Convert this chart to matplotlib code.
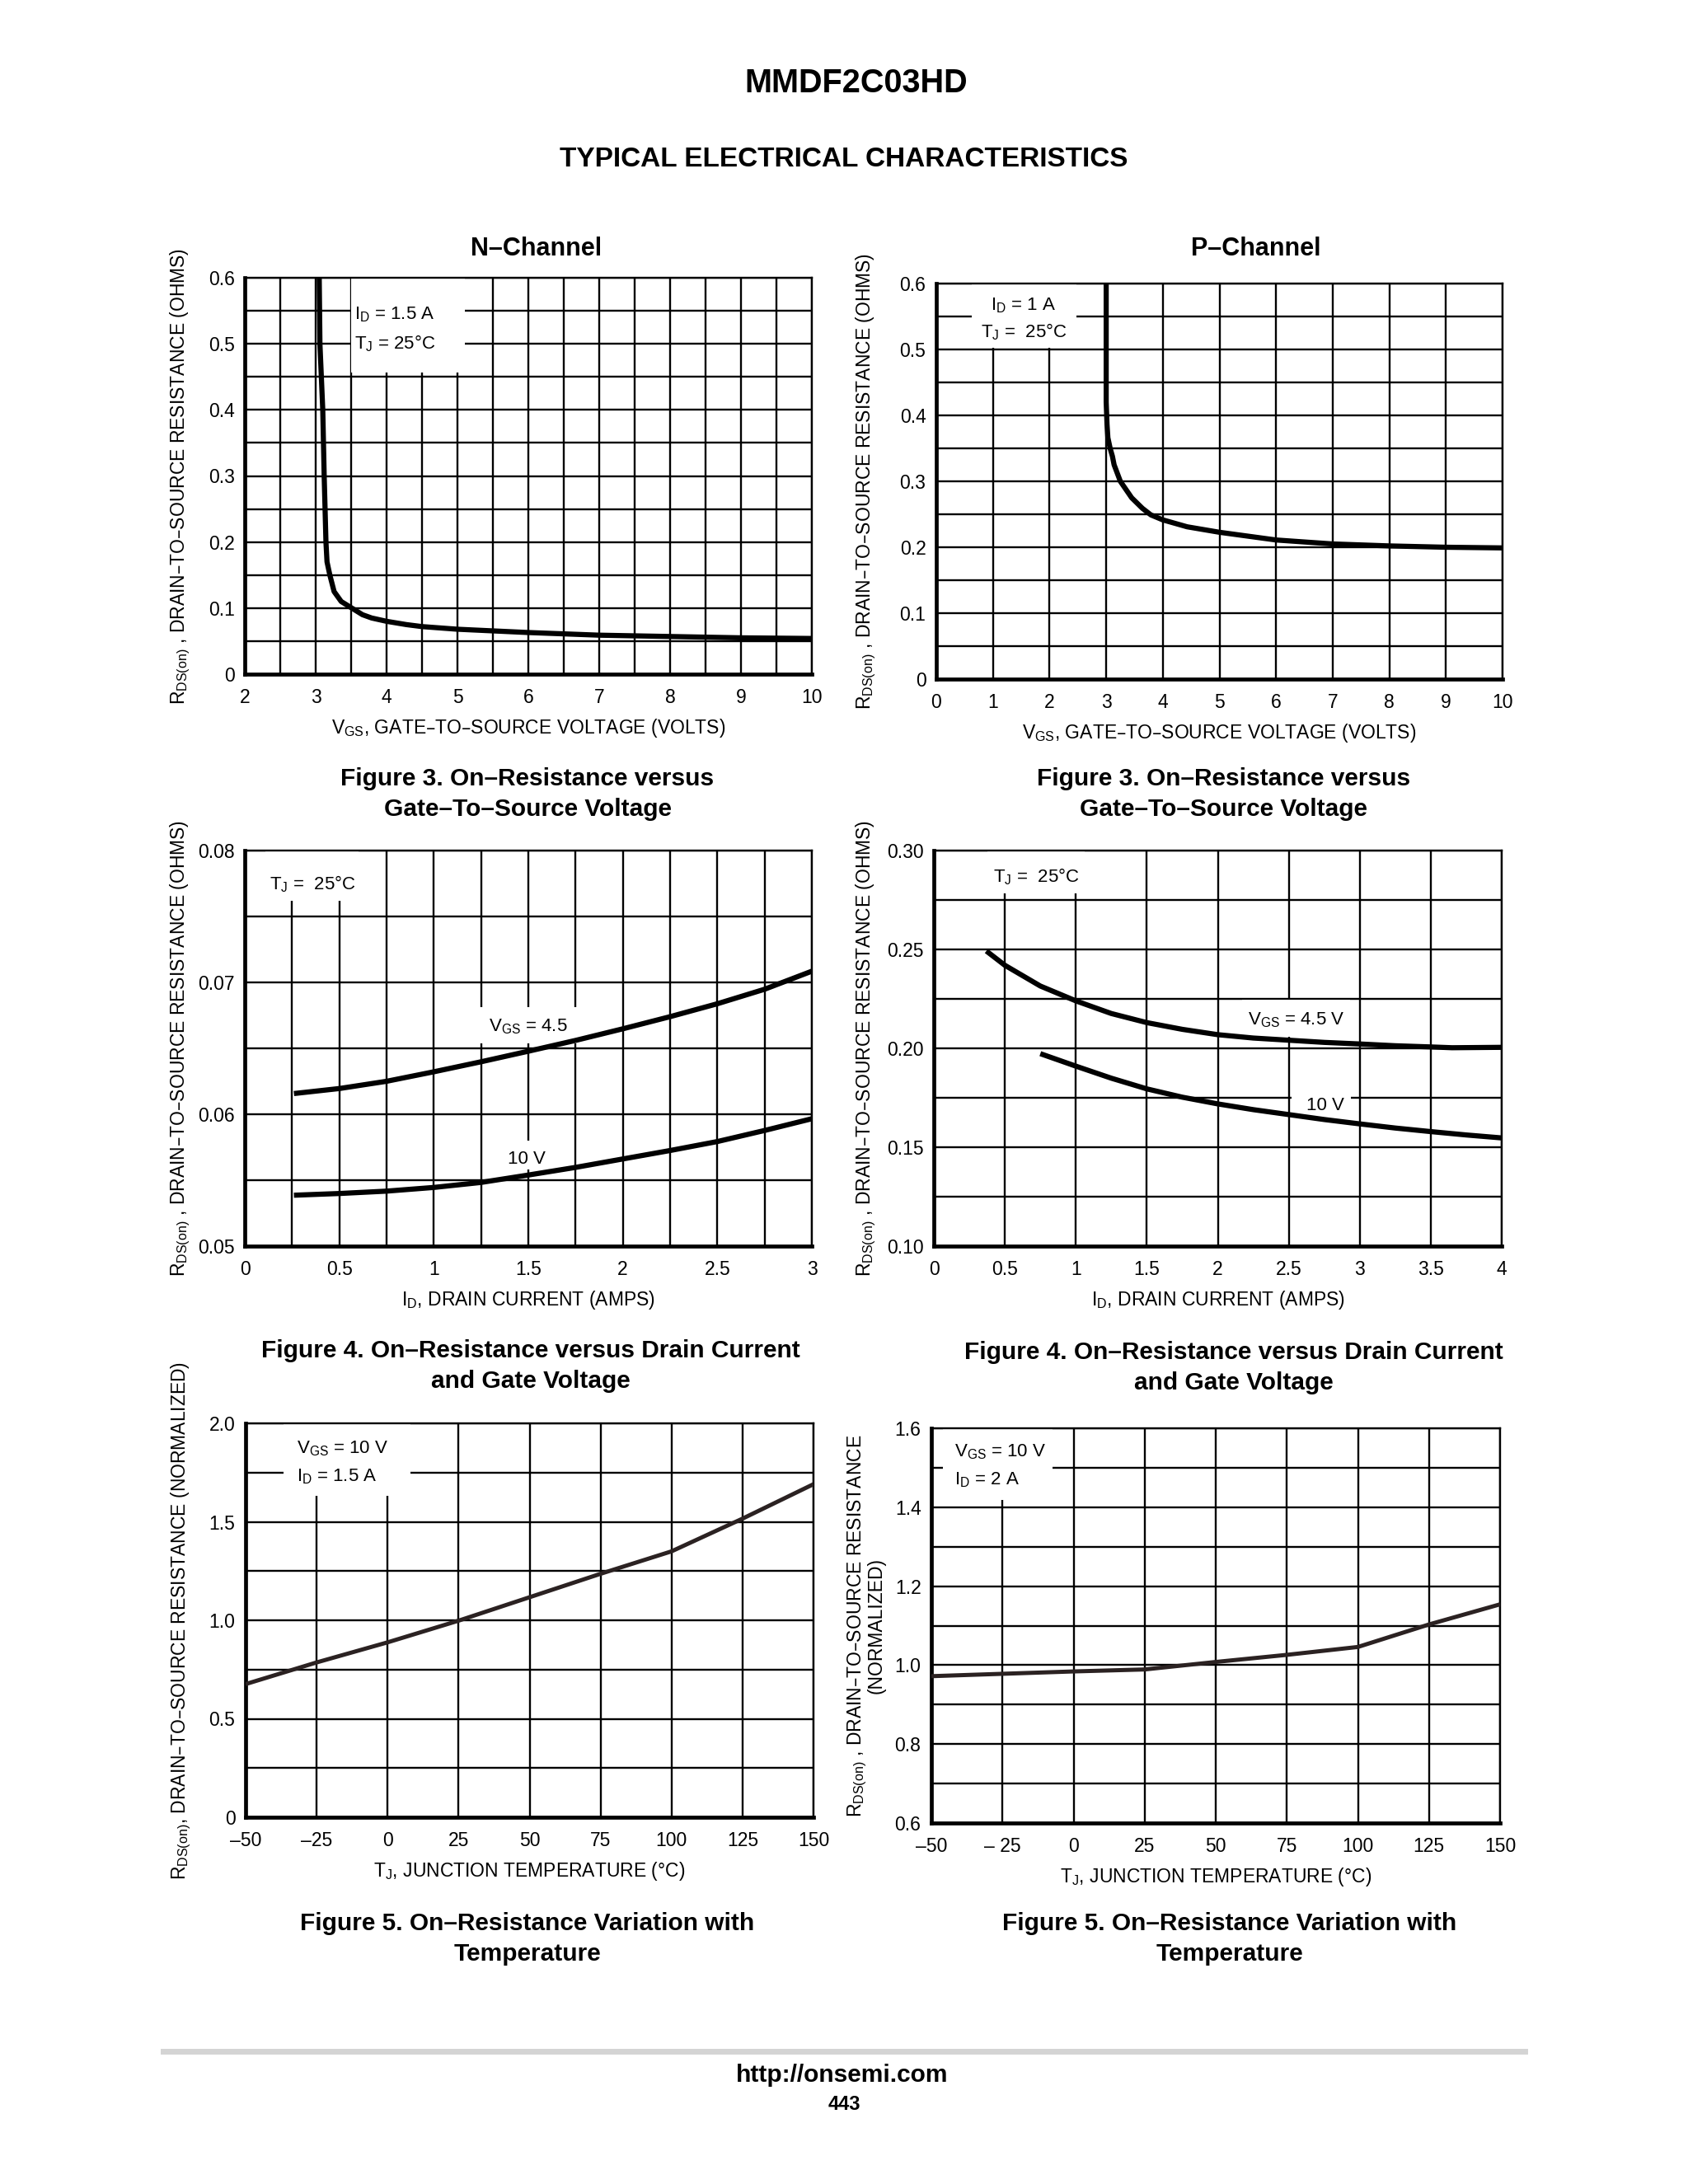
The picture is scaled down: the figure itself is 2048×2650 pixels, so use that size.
import matplotlib
matplotlib.use('Agg')
import matplotlib.pyplot as plt
from matplotlib.patches import Rectangle
from matplotlib.ticker import MultipleLocator

plt.rcParams['font.family'] = ['Liberation Sans Narrow', 'Liberation Sans', 'DejaVu Sans']
plt.rcParams['mathtext.default'] = 'regular'

# ---------------- data ----------------
# Figure 3 (N-channel): RDS(on) vs VGS, ID = 1.5 A
n_vgs = [3.05, 3.06, 3.10, 3.12, 3.145, 3.16, 3.20, 3.26, 3.36, 3.51, 3.66, 3.79, 4.0, 4.28, 4.5,
         5, 6, 7, 8, 9, 10]
n_rds = [0.60, 0.50, 0.40, 0.30, 0.20, 0.17, 0.15, 0.125, 0.11, 0.10, 0.09, 0.085, 0.08, 0.075, 0.072,
         0.068, 0.063, 0.059, 0.057, 0.055, 0.054]
# Figure 3 (P-channel): RDS(on) vs VGS, ID = 1 A
p_vgs = [3.0, 3.0, 3.015, 3.03, 3.07, 3.11, 3.14, 3.25, 3.45, 3.64, 3.79, 4.0, 4.43, 5, 6, 7, 8, 9, 10]
p_rds = [0.60, 0.42, 0.386, 0.366, 0.350, 0.338, 0.325, 0.300, 0.275, 0.259, 0.249, 0.2415, 0.231,
         0.2227, 0.211, 0.205, 0.202, 0.200, 0.199]
# Figure 4 (N-channel): RDS(on) vs ID
n_id = [0.26, 0.5, 0.75, 1.0, 1.25, 1.5, 1.75, 2.0, 2.25, 2.5, 2.75, 3.0]
n_rds_45 = [0.06157, 0.06195, 0.0625, 0.06322, 0.06398, 0.06478, 0.06560, 0.06648, 0.06740, 0.06838,
            0.06948, 0.07085]
n_rds_10 = [0.05386, 0.05399, 0.05417, 0.05445, 0.05483, 0.05539, 0.05597, 0.05661, 0.05725, 0.05793,
            0.05877, 0.05966]
# Figure 4 (P-channel): RDS(on) vs ID
p_id_45 = [0.37, 0.5, 0.75, 1.0, 1.25, 1.5, 1.75, 2.0, 2.25, 2.5, 2.75, 3.0, 3.25, 3.5, 3.65, 4.0]
p_rds_45 = [0.2492, 0.2420, 0.2315, 0.2240, 0.2176, 0.2130, 0.2096, 0.2069, 0.2052, 0.2041, 0.2030,
            0.2022, 0.2013, 0.2007, 0.2003, 0.2005]
p_id_10 = [0.75, 1.0, 1.25, 1.5, 1.75, 2.0, 2.25, 2.5, 2.75, 3.0, 3.25, 3.5, 3.75, 4.0]
p_rds_10 = [0.1973, 0.1910, 0.1849, 0.1795, 0.1753, 0.1719, 0.1690, 0.1665, 0.1640, 0.1618, 0.1597,
            0.1579, 0.1562, 0.1547]
# Figure 5: normalized RDS(on) vs TJ
n_tj = [-50, -25, 0, 25, 50, 75, 100, 125, 150]
n_rnorm = [0.676, 0.786, 0.888, 0.998, 1.117, 1.236, 1.350, 1.516, 1.691]
p_tj = [-50, -25, 0, 25, 50, 75, 100, 125, 150]
p_rnorm = [0.972, 0.978, 0.984, 0.989, 1.008, 1.026, 1.046, 1.103, 1.154]

# tick labels
vgs_n_ticks = [2, 3, 4, 5, 6, 7, 8, 9, 10]
vgs_p_ticks = [0, 1, 2, 3, 4, 5, 6, 7, 8, 9, 10]
rds_ticks = [0, 0.1, 0.2, 0.3, 0.4, 0.5, 0.6]
rds_ticklabels = ['0', '0.1', '0.2', '0.3', '0.4', '0.5', '0.6']
id_n_ticks = [0, 0.5, 1, 1.5, 2, 2.5, 3]
id_n_ticklabels = ['0', '0.5', '1', '1.5', '2', '2.5', '3']
rds_n4_ticks = [0.05, 0.06, 0.07, 0.08]
rds_n4_ticklabels = ['0.05', '0.06', '0.07', '0.08']
id_p_ticks = [0, 0.5, 1, 1.5, 2, 2.5, 3, 3.5, 4]
id_p_ticklabels = ['0', '0.5', '1', '1.5', '2', '2.5', '3', '3.5', '4']
rds_p4_ticks = [0.10, 0.15, 0.20, 0.25, 0.30]
rds_p4_ticklabels = ['0.10', '0.15', '0.20', '0.25', '0.30']
tj_ticks = [-50, -25, 0, 25, 50, 75, 100, 125, 150]
tj_n_ticklabels = ['–50', '–25', '0', '25', '50', '75', '100', '125', '150']
tj_p_ticklabels = ['–50', '– 25', '0', '25', '50', '75', '100', '125', '150']
rn_n_ticks = [0, 0.5, 1.0, 1.5, 2.0]
rn_n_ticklabels = ['0', '0.5', '1.0', '1.5', '2.0']
rn_p_ticks = [0.6, 0.8, 1.0, 1.2, 1.4, 1.6]
rn_p_ticklabels = ['0.6', '0.8', '1.0', '1.2', '1.4', '1.6']

# ---------------- figure ----------------
W, H = 2048, 2650
fig = plt.figure(figsize=(W / 100, H / 100), dpi=100)
fig.patch.set_facecolor('white')

BOLD = ['Liberation Sans', 'DejaVu Sans']
TICK_FS = 16.5
LAB_FS = 16.5
ANN_FS = 16


def px_rect(x0, y0, x1, y1):
    return [x0 / W, 1 - y1 / H, (x1 - x0) / W, (y1 - y0) / H]


def ftext(x, y, s, **kw):
    fig.text(x / W, 1 - y / H, s, ha='center', va='center', **kw)


def panel(r, xlim, ylim, xgrid, ygrid, xt, xtl, yt, ytl, xlabel, ylabel, ylab_x, gcol='black'):
    ax = fig.add_axes(px_rect(*r))
    ax.set_xlim(*xlim)
    ax.set_ylim(*ylim)
    ax.set_xticks(xt)
    ax.set_xticklabels(xtl)
    ax.set_yticks(yt)
    ax.set_yticklabels(ytl)
    ax.xaxis.set_minor_locator(MultipleLocator(xgrid))
    ax.yaxis.set_minor_locator(MultipleLocator(ygrid))
    ax.set_axisbelow(True)
    ax.grid(which='both', color=gcol, lw=1.7)
    ax.tick_params(which='both', length=0, labelsize=TICK_FS)
    ax.tick_params(axis='x', pad=12)
    ax.tick_params(axis='y', pad=9)
    for s in ['top', 'right']:
        ax.spines[s].set_linewidth(1.7)
        ax.spines[s].set_color(gcol)
    for s in ['left', 'bottom']:
        ax.spines[s].set_linewidth(3.4)
        ax.spines[s].set_color(gcol)
    ax.set_xlabel(xlabel, fontsize=LAB_FS, labelpad=9)
    ax.set_ylabel(ylabel, fontsize=LAB_FS, linespacing=0.85)
    ax.yaxis.set_label_coords(ylab_x, 0.5)
    return ax


def whitebox(ax, x0, y0, x1, y1):
    ax.add_patch(Rectangle((x0, y0), x1 - x0, y1 - y0, facecolor='white', edgecolor='none',
                           zorder=1.5))


YL_OHMS = 'R$_{DS(on)}$ , DRAIN–TO–SOURCE RESISTANCE (OHMS)'
CURVE = dict(color='black', lw=4.5, solid_joinstyle='round', solid_capstyle='butt', zorder=4)
LC = '#2b2222'
CURVE_T = dict(color=LC, lw=3.6, solid_joinstyle='round', solid_capstyle='butt', zorder=4)

# ---- Figure 3 N-channel
ax1 = panel((297, 337, 985, 818), (2, 10), (0, 0.6), 0.5, 0.05,
            vgs_n_ticks, [str(v) for v in vgs_n_ticks], rds_ticks, rds_ticklabels,
            'V$_{GS}$, GATE–TO–SOURCE VOLTAGE (VOLTS)', YL_OHMS, -0.093)
whitebox(ax1, 3.5, 0.457, 5.1, 0.6)
ax1.text(3.55, 0.544, 'I$_D$ = 1.5 A', fontsize=ANN_FS, ha='left', va='center', zorder=3)
ax1.text(3.55, 0.501, 'T$_J$ = 25°C', fontsize=ANN_FS, ha='left', va='center', zorder=3)
ax1.plot(n_vgs, n_rds, **CURVE)

# ---- Figure 3 P-channel
ax2 = panel((1136, 344, 1823, 824), (0, 10), (0, 0.6), 1, 0.05,
            vgs_p_ticks, [str(v) for v in vgs_p_ticks], rds_ticks, rds_ticklabels,
            'V$_{GS}$, GATE–TO–SOURCE VOLTAGE (VOLTS)', YL_OHMS, -0.103)
whitebox(ax2, 0.62, 0.503, 2.47, 0.6)
ax2.text(1.54, 0.567, 'I$_D$ = 1 A', fontsize=ANN_FS, ha='center', va='center', zorder=3)
ax2.text(1.54, 0.526, 'T$_J$ =  25°C', fontsize=ANN_FS, ha='center', va='center', zorder=3)
ax2.plot(p_vgs, p_rds, **CURVE)

# ---- Figure 4 N-channel
ax3 = panel((297, 1032, 985, 1512), (0, 3), (0.05, 0.08), 0.25, 0.005,
            id_n_ticks, id_n_ticklabels, rds_n4_ticks, rds_n4_ticklabels,
            'I$_D$, DRAIN CURRENT (AMPS)', YL_OHMS, -0.093)
whitebox(ax3, 0.11, 0.0762, 0.6, 0.08)
whitebox(ax3, 1.24, 0.0654, 1.76, 0.0681)
whitebox(ax3, 1.38, 0.0558, 1.62, 0.0580)
ax3.text(0.358, 0.07746, 'T$_J$ =  25°C', fontsize=ANN_FS, ha='center', va='center', zorder=3)
ax3.text(1.50, 0.06665, 'V$_{GS}$ = 4.5', fontsize=ANN_FS, ha='center', va='center', zorder=3)
ax3.text(1.49, 0.0566, '10 V', fontsize=ANN_FS, ha='center', va='center', zorder=3)
ax3.plot(n_id, n_rds_45, **CURVE)
ax3.plot(n_id, n_rds_10, **CURVE)

# ---- Figure 4 P-channel
ax4 = panel((1133, 1032, 1822, 1512), (0, 4), (0.10, 0.30), 0.5, 0.025,
            id_p_ticks, id_p_ticklabels, rds_p4_ticks, rds_p4_ticklabels,
            'I$_D$, DRAIN CURRENT (AMPS)', YL_OHMS, -0.098)
whitebox(ax4, 0.38, 0.2785, 1.06, 0.30)
whitebox(ax4, 2.17, 0.2058, 2.93, 0.2244)
whitebox(ax4, 2.52, 0.167, 2.94, 0.1785)
ax4.text(0.72, 0.287, 'T$_J$ =  25°C', fontsize=ANN_FS, ha='center', va='center', zorder=3)
ax4.text(2.55, 0.2142, 'V$_{GS}$ = 4.5 V', fontsize=ANN_FS, ha='center', va='center', zorder=3)
ax4.text(2.76, 0.1711, '10 V', fontsize=ANN_FS, ha='center', va='center', zorder=3)
ax4.plot(p_id_45, p_rds_45, **CURVE)
ax4.plot(p_id_10, p_rds_10, **CURVE)

# ---- Figure 5 N-channel
ax5 = panel((298, 1727, 987, 2205), (-50, 150), (0, 2.0), 25, 0.25,
            tj_ticks, tj_n_ticklabels, rn_n_ticks, rn_n_ticklabels,
            'T$_J$, JUNCTION TEMPERATURE (°C)',
            'R$_{DS(on)}$, DRAIN–TO–SOURCE RESISTANCE (NORMALIZED)', -0.093)
whitebox(ax5, -36.6, 1.63, 8.1, 2.0)
ax5.text(-32, 1.873, 'V$_{GS}$ = 10 V', fontsize=ANN_FS, ha='left', va='center', zorder=3)
ax5.text(-32, 1.728, 'I$_D$ = 1.5 A', fontsize=ANN_FS, ha='left', va='center', zorder=3)
ax5.plot(n_tj, n_rnorm, **CURVE_T)

# ---- Figure 5 P-channel
ax6 = panel((1130, 1733, 1820, 2212), (-50, 150), (0.6, 1.6), 25, 0.1,
            tj_ticks, tj_p_ticklabels, rn_p_ticks, rn_p_ticklabels,
            'T$_J$, JUNCTION TEMPERATURE (°C)',
            'R$_{DS(on)}$ , DRAIN–TO–SOURCE RESISTANCE\n(NORMALIZED)', -0.080)
whitebox(ax6, -46, 1.418, -7.5, 1.6)
ax6.text(-42, 1.541, 'V$_{GS}$ = 10 V', fontsize=ANN_FS, ha='left', va='center', zorder=3)
ax6.text(-42, 1.469, 'I$_D$ = 2 A', fontsize=ANN_FS, ha='left', va='center', zorder=3)
ax6.plot(p_tj, p_rnorm, **CURVE_T)

# ---------------- page texts ----------------
ftext(1039, 101, 'MMDF2C03HD', fontsize=28.5, fontweight='bold', family=BOLD)
ftext(1024, 194, 'TYPICAL ELECTRICAL CHARACTERISTICS', fontsize=24, fontweight='bold', family=BOLD)
ftext(651, 302, 'N–Channel', fontsize=22, fontweight='bold', family=BOLD)
ftext(1524, 302, 'P–Channel', fontsize=22, fontweight='bold', family=BOLD)

CAP = dict(fontsize=21.5, fontweight='bold', family=BOLD)
ftext(640, 945, 'Figure 3. On–Resistance versus', **CAP)
ftext(640, 982, 'Gate–To–Source Voltage', **CAP)
ftext(1485, 945, 'Figure 3. On–Resistance versus', **CAP)
ftext(1485, 982, 'Gate–To–Source Voltage', **CAP)
ftext(644, 1639, 'Figure 4. On–Resistance versus Drain Current', **CAP)
ftext(644, 1676, 'and Gate Voltage', **CAP)
ftext(1497, 1641, 'Figure 4. On–Resistance versus Drain Current', **CAP)
ftext(1497, 1678, 'and Gate Voltage', **CAP)
ftext(640, 2334, 'Figure 5. On–Resistance Variation with', **CAP)
ftext(640, 2371, 'Temperature', **CAP)
ftext(1492, 2334, 'Figure 5. On–Resistance Variation with', **CAP)
ftext(1492, 2371, 'Temperature', **CAP)

fig.add_artist(plt.Line2D([198 / W, 1850 / W], [1 - 2489 / H, 1 - 2489 / H],
                          color='#d4d4d4', lw=5, transform=fig.transFigure))
ftext(1022, 2518, 'http://onsemi.com', fontsize=21.5, fontweight='bold', family=BOLD)
ftext(1024, 2553, '443', fontsize=17, fontweight='bold', family=BOLD)

fig.savefig('out.png', dpi=100, facecolor='white')
